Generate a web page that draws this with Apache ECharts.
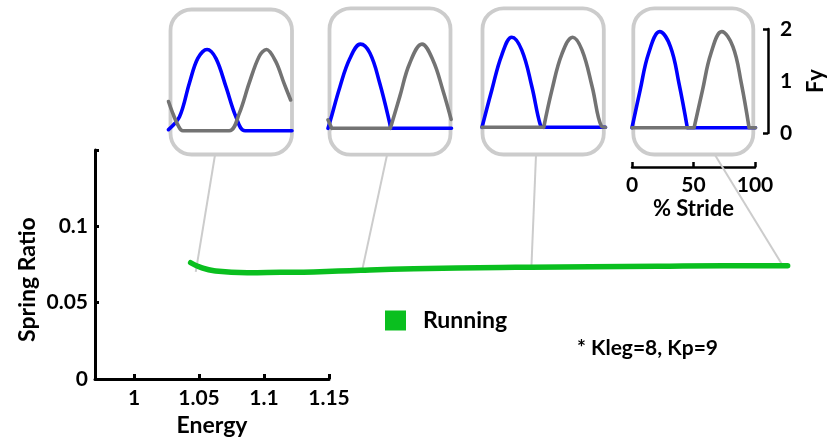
<!DOCTYPE html>
<html>
<head>
<meta charset="utf-8">
<title>Spring Ratio vs Energy</title>
<script src="https://cdn.jsdelivr.net/npm/echarts@6.0.0/dist/echarts.min.js"></script>
<style>
html, body { margin: 0; padding: 0; background: #fff; }
#chart { width: 830px; height: 442px; }
</style>
</head>
<body>
<div id="chart"></div>
<script>
// Spring ratio of the running gait across energy levels
const energy = [1.0436, 1.0513, 1.0615, 1.0872, 1.1128, 1.1382, 1.1744, 1.2152, 1.2821, 1.3051, 1.3513, 1.4028, 1.4536, 1.5028];
const springRatio = [0.0771, 0.0741, 0.0719, 0.0706, 0.0709, 0.0712, 0.0723, 0.0732, 0.0741, 0.0742, 0.0745, 0.0749, 0.0752, 0.0752];
const energyTicks = [1, 1.05, 1.1, 1.15];
const ratioTicks = [0, 0.05, 0.1];
const ratioTickMarks = [0, 0.05, 0.1, 0.15];
const strideTicks = [0, 50, 100];
const fyTickLabels = [0, 1, 2];
const fyTickMarks = [0, 2];

// Points on the curve that each force-profile inset belongs to
const insetEnergy = [1.0475, 1.1757, 1.3057, 1.4990];
const insetRatio = [0.0712, 0.0730, 0.0745, 0.0753];

// Vertical ground force (Fy) over one stride, [stride %, Fy]; leg A blue, leg B gray
const legA1 = [[0, 0.02], [8.9, 0.28], [16.9, 0.96], [23.7, 1.46], [31.2, 1.64], [38.4, 1.46], [46.5, 0.89], [54.6, 0.28], [62, 0], [100, 0]];
const legB1 = [[0, 0.59], [3.5, 0.35], [7.5, 0.12], [11.6, 0], [49.2, 0], [57.3, 0.35], [65.3, 0.96], [73.4, 1.50], [79.3, 1.64], [86.8, 1.40], [93.5, 0.96], [98.9, 0.62]];
const legA2 = [[0, 0], [1.6, 0.13], [9.7, 0.84], [17.7, 1.41], [26.3, 1.70], [33.9, 1.52], [41.9, 0.91], [50, 0.10], [50.5, 0], [100, 0]];
const legB2 = [[0, 0.17], [3, 0], [50.5, 0], [58.1, 0.64], [66.1, 1.31], [76.1, 1.70], [84.9, 1.38], [93, 0.77], [99.7, 0.18]];
const legA3 = [[0, 0], [7.9, 0.75], [16, 1.46], [24.1, 1.82], [32.2, 1.56], [40.4, 0.82], [47.2, 0.05], [50, 0], [100, 0]];
const legB3 = [[0, 0], [50, 0], [56.6, 0.75], [64.8, 1.49], [73.4, 1.82], [81, 1.56], [89.2, 0.82], [96.7, 0.02], [100, 0]];
const legA4 = [[0, 0], [6.6, 0.76], [13.4, 1.50], [22.4, 1.94], [31.1, 1.64], [38, 0.90], [44.8, 0], [100, 0]];
const legB4 = [[0, 0], [50.3, 0], [57.1, 0.76], [63.9, 1.50], [72.7, 1.94], [81.7, 1.64], [88.5, 0.90], [94.8, 0], [100, 0]];

const legA = [legA1, legA2, legA3, legA4];
const legB = [legB1, legB2, legB3, legB4];
// the lowest-energy gait has rounded touch-down/lift-off; the others are sharp
const sharpContact = [false, true, true, true];

const FONT = 'Lato';
const INK = '#000000';
const GREEN = '#0abf1f';
const BLUE = '#0000ff';
const GRAY = '#737373';
const FRAME = '#cccccc';

const labelStyle = { color: INK, fontFamily: FONT, fontWeight: 'bold', fontSize: 20 };
const titleStyle = { color: INK, fontFamily: FONT, fontWeight: 'bold', fontSize: 22 };

// Break a force trace where it meets the ground line, so each stance bump is
// smoothed on its own and the flat swing phase stays straight.
function stanceRuns(pts) {
  const out = [pts[0]];
  for (let i = 1; i < pts.length; i++) {
    const prevZero = pts[i - 1][1] === 0;
    const curZero = pts[i][1] === 0;
    if (prevZero && !curZero) {
      out.push([pts[i - 1][0], '-'], pts[i - 1], pts[i]);
    } else if (!prevZero && curZero) {
      out.push(pts[i], [pts[i][0], '-'], pts[i]);
    } else {
      out.push(pts[i]);
    }
  }
  return out;
}

// inset panels: plot-area left edge and pixel row of Fy = 0
const insetLayout = [
  { left: 168.5, base: 130.7 },
  { left: 328, base: 128.3 },
  { left: 482, base: 127.3 },
  { left: 632, base: 127.7 }
];
const insetWidth = 123.5;
const insetHeight = 99;

// rounded frames around each inset and where their leader lines leave them
const frames = [
  { x: 170.5, y: 9.5, w: 121.5, h: 145, anchor: [215, 155] },
  { x: 329.5, y: 8.3, w: 121, h: 146.4, anchor: [387, 155] },
  { x: 482.5, y: 8.3, w: 121.3, h: 146.2, anchor: [536, 155] },
  { x: 633.3, y: 8.3, w: 120, h: 146.2, anchor: [715, 155] }
];

const grids = [
  { left: 95, top: 150, width: 234, height: 232 },   // visible main axes
  { left: 95, top: 150, width: 702, height: 232 }    // running curve, same scale
];
insetLayout.forEach(p => grids.push({ left: p.left, top: p.base - insetHeight, width: insetWidth, height: insetHeight }));
grids.push({ left: 700, top: 29, width: 68, height: 104 });   // Fy scale
grids.push({ left: 632, top: 60, width: 123, height: 107 });  // % Stride scale

const hidden = (gi, min, max) => ({ gridIndex: gi, type: 'value', show: false, min, max, axisLine: { onZero: false } });

const xAxes = [
  {
    gridIndex: 0, type: 'value', min: 0.97, max: 1.15,
    axisLine: { show: true, onZero: false, lineStyle: { color: INK, width: 3 } },
    axisTick: { show: true, inside: true, length: 5, lineStyle: { color: INK, width: 3 }, customValues: energyTicks },
    axisLabel: Object.assign({ margin: 9, customValues: energyTicks }, labelStyle, { fontSize: 21 }),
    splitLine: { show: false },
    name: 'Energy', nameLocation: 'middle', nameGap: 30,
    nameTextStyle: Object.assign({}, titleStyle, { fontSize: 23 })
  },
  hidden(1, 0.97, 1.51)
];
const yAxes = [
  {
    gridIndex: 0, type: 'value', min: 0, max: 0.15,
    axisLine: { show: true, onZero: false, lineStyle: { color: INK, width: 3 } },
    axisTick: { show: true, inside: true, length: 4, lineStyle: { color: INK, width: 3 }, customValues: ratioTickMarks },
    axisLabel: Object.assign({ margin: 7, customValues: ratioTicks }, labelStyle, { fontSize: 21 }),
    splitLine: { show: false },
    name: 'Spring Ratio', nameLocation: 'middle', nameGap: 56,
    nameTextStyle: Object.assign({}, titleStyle, { fontSize: 23, padding: [0, 30, 0, 0] })
  },
  hidden(1, 0, 0.15)
];
insetLayout.forEach((p, i) => {
  xAxes.push(hidden(2 + i, 0, 100));
  yAxes.push(hidden(2 + i, 0, 2));
});
xAxes.push(hidden(6, 0, 1));
yAxes.push({
  gridIndex: 6, type: 'value', position: 'right', min: 0, max: 2, interval: 1,
  axisLine: { show: true, onZero: false, lineStyle: { color: INK, width: 2.5 } },
  axisTick: { show: true, inside: true, length: 5, lineStyle: { color: INK, width: 2.5 }, customValues: fyTickMarks },
  axisLabel: Object.assign({ margin: 12, customValues: fyTickLabels }, labelStyle, { fontSize: 21 }),
  splitLine: { show: false },
  name: 'Fy', nameLocation: 'middle', nameGap: 37, nameRotate: 90,
  nameTextStyle: titleStyle
});
xAxes.push({
  gridIndex: 7, type: 'value', min: 0, max: 100, interval: 50,
  axisLine: { show: true, onZero: false, lineStyle: { color: INK, width: 2.5 } },
  axisTick: { show: true, inside: true, length: 5, lineStyle: { color: INK, width: 2.5 } },
  axisLabel: Object.assign({ margin: 8, customValues: strideTicks }, labelStyle, { fontSize: 21 }),
  splitLine: { show: false },
  name: '% Stride', nameLocation: 'middle', nameGap: 31,
  nameTextStyle: titleStyle
});
yAxes.push(hidden(7, 0, 1));

const series = [{
  name: 'Running', type: 'line', xAxisIndex: 1, yAxisIndex: 1,
  data: energy.map((e, i) => [e, springRatio[i]]),
  smooth: 0.5, showSymbol: false, symbol: 'none', z: 5,
  lineStyle: { color: GREEN, width: 5.5, cap: 'round' },
  itemStyle: { color: GREEN }
}];
insetLayout.forEach((p, i) => {
  [[legA[i], BLUE], [legB[i], GRAY]].forEach(([pts, color], j) => {
    series.push({
      name: (j === 0 ? 'Leg A ' : 'Leg B ') + (i + 1), type: 'line',
      xAxisIndex: 2 + i, yAxisIndex: 2 + i,
      data: sharpContact[i] ? stanceRuns(pts) : pts,
      smooth: sharpContact[i] ? 0.4 : 0.35,
      connectNulls: false, showSymbol: false, symbol: 'none', clip: false, z: 4 + j,
      lineStyle: { color, width: 3.6, cap: 'round', join: 'round' },
      itemStyle: { color }
    });
  });
});

const chart = echarts.init(document.getElementById('chart'), null, { renderer: 'canvas' });
chart.setOption({
  animation: false,
  backgroundColor: '#ffffff',
  grid: grids,
  xAxis: xAxes,
  yAxis: yAxes,
  series,
  legend: {
    data: [{ name: 'Running', icon: 'rect' }],
    left: 385, top: 309, itemWidth: 21, itemHeight: 20, padding: 0,
    textStyle: { color: INK, fontFamily: FONT, fontWeight: 'bold', fontSize: 23, padding: [0, 0, 0, 12] }
  }
});

// frames, leader lines to the curve, and the stiffness note
const graphics = [];
frames.forEach((f, i) => {
  const end = chart.convertToPixel({ gridIndex: 1 }, [insetEnergy[i], insetRatio[i]]);
  graphics.push({
    type: 'line', z: 1, silent: true,
    shape: { x1: f.anchor[0], y1: f.anchor[1], x2: end[0], y2: end[1] },
    style: { stroke: FRAME, lineWidth: 2 }
  });
  graphics.push({
    type: 'rect', z: 2, silent: true,
    shape: { x: f.x, y: f.y, width: f.w, height: f.h, r: 21 },
    style: { fill: 'rgba(0,0,0,0)', stroke: FRAME, lineWidth: 3.8 }
  });
});
graphics.push({
  type: 'text', z: 3, left: 577, top: 338,
  style: { text: '* Kleg=8, Kp=9', fill: INK, font: 'bold 21px Lato' }
});
chart.setOption({ graphic: graphics });
</script>
</body>
</html>
